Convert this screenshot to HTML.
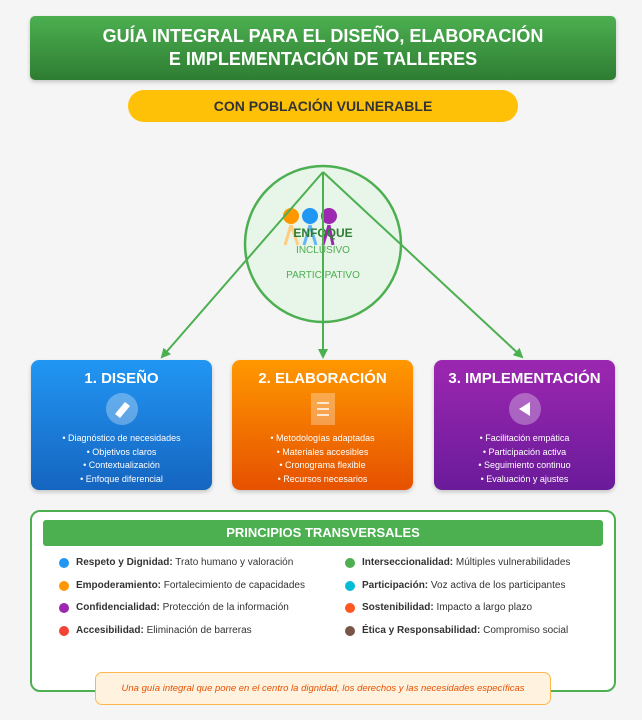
<!DOCTYPE html>
<html><head><meta charset="utf-8"><style>
*{margin:0;padding:0;box-sizing:border-box}
body{width:642px;height:720px;background:#f5f5f5;font-family:"Liberation Sans",sans-serif;position:relative;overflow:hidden}
.a{position:absolute}
.title{left:30px;top:16px;width:586px;height:64px;border-radius:5px;background:linear-gradient(#4caf50,#2e7d32);color:#fff;font-weight:bold;font-size:18px;line-height:23px;text-align:center;padding-top:9px;box-shadow:0 2px 4px rgba(0,0,0,.2)}
.pill{left:128px;top:90px;width:390px;height:32px;border-radius:16px;background:#ffc107;color:#333;font-weight:bold;font-size:14px;text-align:center;line-height:32px}
.box{top:360px;width:181px;height:130px;border-radius:8px;color:#fff;text-align:center;box-shadow:0 2px 4px rgba(0,0,0,.2)}
.box h3{font-size:15px;margin-top:10px;line-height:18px}
.box .ic{display:block;margin:5px auto 0;width:32px;height:32px}
.box ul{list-style:none;font-size:9px;line-height:13.5px;margin-top:7px}
.pr{left:30px;top:510px;width:586px;height:182px;border:2px solid #4caf50;border-radius:10px;background:#fff}
.ph{left:43px;top:520px;width:560px;height:26px;background:#4caf50;border-radius:3px;color:#fff;font-weight:bold;font-size:13px;text-align:center;line-height:26px}
.it{font-size:10px;color:#333;line-height:12px}
.it i{position:absolute;left:-17px;top:1px;width:10px;height:10px;border-radius:50%}
.ft{left:95px;top:672px;width:456px;height:33px;border:1px solid #ffb74d;border-radius:7px;background:#fff3e0;color:#e65100;font-style:italic;font-size:9.5px;text-align:center;line-height:31px}
</style></head><body>
<div class="a title">GUÍA INTEGRAL PARA EL DISEÑO, ELABORACIÓN<br>E IMPLEMENTACIÓN DE TALLERES</div>
<div class="a pill">CON POBLACIÓN VULNERABLE</div>
<svg class="a" style="left:0;top:0" width="642" height="720">
<defs><marker id="m" markerWidth="10" markerHeight="10" refX="8" refY="5" orient="auto" markerUnits="userSpaceOnUse"><path d="M0,0L10,5L0,10z" fill="#4caf50"/></marker></defs>
<circle cx="323" cy="244" r="78" fill="#e8f5e9" stroke="#4caf50" stroke-width="2.5"/>
<g fill="none" stroke-width="3">
<circle cx="291" cy="216" r="8" fill="#ff9800"/><path d="M291 225 L285 245 M291 225 L298 245" stroke="#ffcc80"/>
<circle cx="310" cy="216" r="8" fill="#2196f3"/><path d="M310 225 L304 245 M310 225 L316 245" stroke="#64b5f6"/>
<circle cx="329" cy="216" r="8" fill="#9c27b0"/><path d="M329 225 L323 245 M329 225 L333 245" stroke="#9c27b0"/>
</g>
<text x="323" y="237" font-size="12" font-weight="bold" fill="#2e7d32" text-anchor="middle" font-family="Liberation Sans">ENFOQUE</text>
<text x="323" y="253" font-size="10" fill="#4caf50" text-anchor="middle" font-family="Liberation Sans">INCLUSIVO</text>
<text x="323" y="278" font-size="10" fill="#4caf50" text-anchor="middle" font-family="Liberation Sans">PARTICIPATIVO</text>
<g stroke="#4caf50" stroke-width="2" fill="none">
<line x1="323" y1="172" x2="162" y2="357" marker-end="url(#m)"/>
<line x1="323" y1="172" x2="323" y2="357" marker-end="url(#m)"/>
<line x1="323" y1="172" x2="522" y2="357" marker-end="url(#m)"/>
</g>
</svg>
<div class="a box" style="left:31px;background:linear-gradient(#2196f3,#1565c0)"><h3>1. DISEÑO</h3>
<svg class="ic" viewBox="0 0 32 32"><circle cx="16" cy="16" r="16" fill="rgba(255,255,255,.3)"/><path d="M9 21 L19 9 L24 13 L14 25z" fill="#fff"/></svg>
<ul><li>• Diagnóstico de necesidades</li><li>• Objetivos claros</li><li>• Contextualización</li><li>• Enfoque diferencial</li></ul></div>
<div class="a box" style="left:232px;background:linear-gradient(#ff9800,#e65100)"><h3>2. ELABORACIÓN</h3>
<svg class="ic" viewBox="0 0 32 32"><rect x="4" y="0" width="24" height="32" fill="rgba(255,255,255,.3)"/><path d="M10 10H22M10 16H22M10 22H22" stroke="#fff" stroke-width="1.5"/></svg>
<ul><li>• Metodologías adaptadas</li><li>• Materiales accesibles</li><li>• Cronograma flexible</li><li>• Recursos necesarios</li></ul></div>
<div class="a box" style="left:434px;background:linear-gradient(#9c27b0,#6a1b9a)"><h3>3. IMPLEMENTACIÓN</h3>
<svg class="ic" viewBox="0 0 32 32"><circle cx="16" cy="16" r="16" fill="rgba(255,255,255,.3)"/><path d="M10 16 L21 9 L21 23z" fill="#fff"/></svg>
<ul><li>• Facilitación empática</li><li>• Participación activa</li><li>• Seguimiento continuo</li><li>• Evaluación y ajustes</li></ul></div>
<div class="a pr"></div>
<div class="a ph">PRINCIPIOS TRANSVERSALES</div>
<div class="a it" style="left:76px;top:557px"><i style="background:#2196f3"></i><b>Respeto y Dignidad:</b> Trato humano y valoración</div>
<div class="a it" style="left:76px;top:580px"><i style="background:#ff9800"></i><b>Empoderamiento:</b> Fortalecimiento de capacidades</div>
<div class="a it" style="left:76px;top:602px"><i style="background:#9c27b0"></i><b>Confidencialidad:</b> Protección de la información</div>
<div class="a it" style="left:76px;top:625px"><i style="background:#f44336"></i><b>Accesibilidad:</b> Eliminación de barreras</div>
<div class="a it" style="left:362px;top:557px"><i style="background:#4caf50"></i><b>Interseccionalidad:</b> Múltiples vulnerabilidades</div>
<div class="a it" style="left:362px;top:580px"><i style="background:#00bcd4"></i><b>Participación:</b> Voz activa de los participantes</div>
<div class="a it" style="left:362px;top:602px"><i style="background:#ff5722"></i><b>Sostenibilidad:</b> Impacto a largo plazo</div>
<div class="a it" style="left:362px;top:625px"><i style="background:#795548"></i><b>Ética y Responsabilidad:</b> Compromiso social</div>
<div class="a ft">Una guía integral que pone en el centro la dignidad, los derechos y las necesidades específicas</div>
</body></html>
